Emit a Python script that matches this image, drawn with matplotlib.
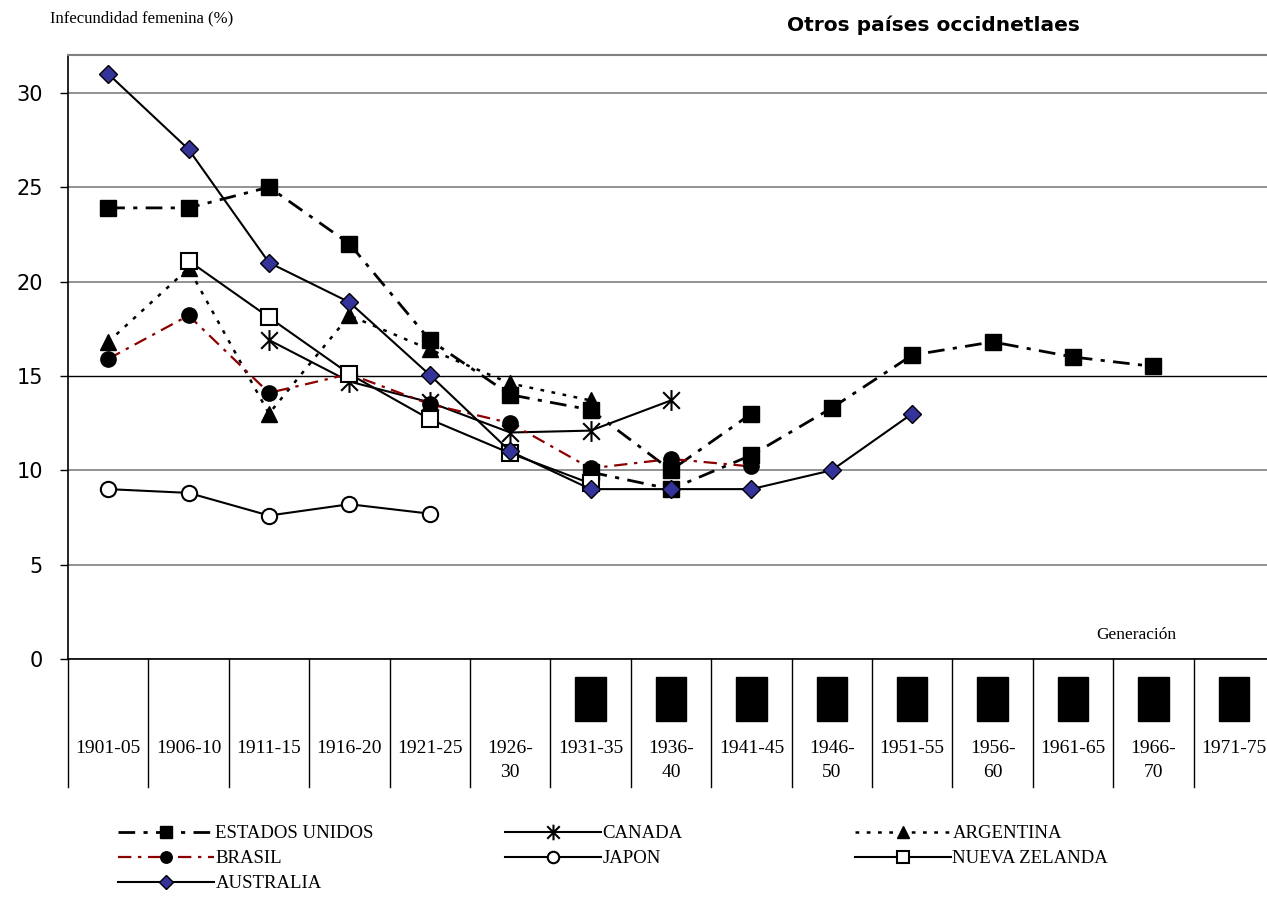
import numpy as np
import matplotlib
matplotlib.use("Agg")
import matplotlib.pyplot as plt
from matplotlib.patches import Rectangle
from matplotlib.path import Path
from matplotlib.transforms import blended_transform_factory

# generaciones (cohortes de nacimiento)
categories = ["1901-05", "1906-10", "1911-15", "1916-20", "1921-25", "1926-\n30",
              "1931-35", "1936-\n40", "1941-45", "1946-\n50", "1951-55", "1956-\n60",
              "1961-65", "1966-\n70", "1971-75"]
n = len(categories)

nan = np.nan
# infecundidad femenina (%), una posicion por generacion
us_a = [23.9, 23.9, 25.0, 22.0, 16.9, 14.0, 13.2, 10.0, 13.0, nan, nan, nan, nan, nan, nan]
us_b = [nan, nan, nan, nan, nan, nan, 9.9, 9.0, 10.8, 13.3, 16.1, 16.8, 16.0, 15.5, nan]
canada = [nan, nan, 16.9, 14.7, 13.6, 12.0, 12.1, 13.7, nan, nan, nan, nan, nan, nan, nan]
argentina = [16.8, 20.7, 13.0, 18.2, 16.4, 14.6, 13.7, nan, nan, nan, nan, nan, nan, nan, nan]
brasil = [15.9, 18.2, 14.1, 15.1, 13.5, 12.5, 10.1, 10.6, 10.2, nan, nan, nan, nan, nan, nan]
japon = [9.0, 8.8, 7.6, 8.2, 7.7, nan, nan, nan, nan, nan, nan, nan, nan, nan, nan]
nueva_zelanda = [nan, 21.1, 18.1, 15.1, 12.7, 10.9, 9.3, nan, nan, nan, nan, nan, nan, nan, nan]
australia = [31.0, 27.0, 21.0, 18.9, 15.05, 11.0, 9.0, 9.0, 9.0, 10.0, 13.0, nan, nan, nan, nan]

# celdas con el recuadro negro bajo el eje
boxed = list(range(6, 15))

W, H = 1267, 906
fig = plt.figure(figsize=(W / 100, H / 100), dpi=100)
ax = fig.add_axes([68 / W, 1 - 659 / H, 1206 / W, 604 / H])
x = np.arange(n)

serif = "Liberation Serif"
dash_us = (6, 3, 1.5, 3)

# asterisco estilo Excel: X con barra vertical
star = Path([(0, -1), (0, 1), (-0.8, -0.8), (0.8, 0.8), (-0.8, 0.8), (0.8, -0.8)],
            [Path.MOVETO, Path.LINETO] * 3)

h_us, = ax.plot(x, us_a, color="black", lw=2, dashes=dash_us, marker="s", ms=12,
                mfc="black", mec="black", label="ESTADOS UNIDOS", zorder=3)
ax.plot(x, us_b, color="black", lw=2, dashes=dash_us, marker="s", ms=12,
        mfc="black", mec="black", zorder=3)
h_can, = ax.plot(x, canada, color="black", lw=1.5, marker=star, ms=15, mew=1.5,
                 label="CANADA", zorder=3)
h_arg, = ax.plot(x, argentina, color="black", lw=1.8, dashes=(1.5, 3), marker="^", ms=11,
                 mfc="black", mec="black", label="ARGENTINA", zorder=3)
h_bra, = ax.plot(x, brasil, color="#8B0000", lw=1.6, dashes=dash_us, marker="o", ms=11,
                 mfc="black", mec="black", label="BRASIL", zorder=3)
h_jap, = ax.plot(x, japon, color="black", lw=1.5, marker="o", ms=11, mfc="white",
                 mec="black", mew=1.5, label="JAPON", zorder=3)
h_nz, = ax.plot(x, nueva_zelanda, color="black", lw=1.5, marker="s", ms=12, mfc="white",
                mec="black", mew=1.5, label="NUEVA ZELANDA", zorder=3)
h_aus, = ax.plot(x, australia, color="black", lw=1.5, marker="D", ms=9, mfc="#333399",
                 mec="black", mew=1, label="AUSTRALIA", zorder=3)

ax.set_xlim(-0.5, n - 0.5)
ax.set_ylim(0, 32)
ax.set_yticks(np.arange(0, 31, 5))
ax.set_xticks([])
ax.tick_params(axis="y", length=6, width=1, pad=12, labelsize=15)
ax.yaxis.grid(True, color="#808080", lw=1.2)
for val, gl in zip(ax.get_yticks(), ax.get_ygridlines()):
    if val == 15:
        gl.set_color("black")
        gl.set_linewidth(1)
ax.set_axisbelow(True)
ax.spines["right"].set_visible(False)
ax.spines["top"].set_color("#808080")
ax.spines["top"].set_linewidth(1.5)
ax.spines["left"].set_linewidth(1.2)
ax.spines["bottom"].set_linewidth(1.2)

# tabla de generaciones bajo el eje
tr = blended_transform_factory(ax.transData, ax.transAxes)
y_bot = (659 - 787) / 604
for b in np.arange(-0.5, n, 1.0):
    ax.plot([b, b], [0, y_bot], transform=tr, color="black", lw=1, clip_on=False)
for i, lab in enumerate(categories):
    ax.text(i, (659 - 740) / 604, lab, transform=tr, ha="center", va="top",
            family=serif, fontsize=14, linespacing=1.55)
for i in boxed:
    ax.add_patch(Rectangle((i - 0.19, (659 - 721) / 604), 0.38, 44 / 604,
                           transform=tr, color="black", clip_on=False))

ax.text(1136 / W, 1 - 635 / H, "Generación", transform=fig.transFigure, ha="center",
        va="center", family=serif, fontsize=12.5)
fig.text(50 / W, 1 - 18 / H, "Infecundidad femenina (%)", ha="left", va="center",
         family=serif, fontsize=12)
fig.text(787 / W, 1 - 25 / H, "Otros países occidnetlaes", ha="left", va="center",
         fontsize=14.5, fontweight="bold")

cols = [([h_us, h_bra, h_aus], 118), ([h_can, h_jap], 505), ([h_arg, h_nz], 855)]
for handles, xpos in cols:
    fig.legend(handles=handles, loc="upper left", bbox_to_anchor=(xpos / W, 1 - 825 / H),
               frameon=False, borderpad=0, borderaxespad=0, handlelength=5.1,
               handletextpad=0.1, labelspacing=0.42, markerscale=0.75,
               prop={"family": serif, "size": 13.5})

fig.savefig("out.png", dpi=100)
